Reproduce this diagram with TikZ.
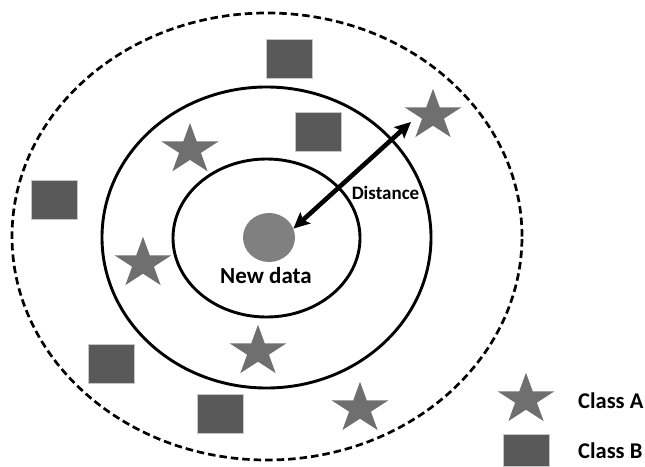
\documentclass[tikz,border=0pt]{standalone}
\usepackage{fontspec}
\setmainfont{Carlito}
\usetikzlibrary{shapes.geometric,arrows.meta}
\definecolor{sqgray}{HTML}{595959}
\definecolor{stgray}{HTML}{6F6F6F}
\definecolor{ndgray}{HTML}{808080}
\begin{document}
\begin{tikzpicture}[x=1pt,y=-1pt,
  ring/.style={draw=black,line width=2.9pt,ellipse,inner sep=0pt},
  outerring/.style={ring,line width=2.7pt,dash pattern=on 7.5pt off 4pt},
  starA/.style={star,star points=5,star point ratio=2.618,minimum size=60pt,inner sep=0pt,fill=stgray,draw=none,yscale=0.89},
  sqB/.style={rectangle,minimum width=46pt,minimum height=39pt,inner sep=0pt,fill=sqgray,draw=gray!45,line width=0.6pt},
  lbl/.style={font=\bfseries,inner sep=0pt,anchor=base},
  distarrow/.style={line width=4.6pt,{Stealth[length=16pt,width=15pt,inset=3pt]}-{Stealth[length=16pt,width=15pt,inset=3pt]}}]
\useasboundingbox (0,0) rectangle (645,466);
% rings
\node[outerring,minimum width=510pt,minimum height=447pt] (outer) at (267,236.5) {};
\node[ring,minimum width=329pt,minimum height=301pt] (middle) at (266.5,237.5) {};
\node[ring,minimum width=187pt,minimum height=158pt] (inner) at (266.5,238) {};
% new data
\node[ellipse,minimum width=52pt,minimum height=49pt,inner sep=0pt,fill=ndgray] (newdata) at (269,237.5) {};
\node[lbl,font=\bfseries\fontsize{23}{27}\selectfont] (newlbl) at (266,283) {New data};
% class A stars
\node[starA] (s1) at (190,149.7) {};
\node[starA] (s2) at (143,263.5) {};
\node[starA] (s3) at (258,351.5) {};
\node[starA] (s4) at (433,115.5) {};
\node[starA] (s5) at (360,408.5) {};
% class B squares
\node[sqB] (q1) at (289.5,58.5) {};
\node[sqB] (q2) at (318,131.5) {};
\node[sqB] (q3) at (54,199.5) {};
\node[sqB] (q4) at (111.5,364) {};
\node[sqB] (q5) at (220.5,414) {};
% distance arrow
\coordinate (far) at (411,122);
\draw[distarrow] (newdata.20) -- (far);
\node[lbl,font=\bfseries\fontsize{19}{23}\selectfont] (distlbl) at (385.5,199) {Distance};
% legend
\node[starA] (legA) at (526,399.5) {};
\node[sqB,minimum height=32pt] (legB) at (526,450) {};
\node[lbl,anchor=base west,font=\bfseries\fontsize{22.5}{27}\selectfont] (legAl) at (578,408) {Class A};
\node[lbl,anchor=base west,font=\bfseries\fontsize{22.5}{27}\selectfont] (legBl) at (578,458) {Class B};
\end{tikzpicture}
\end{document}
